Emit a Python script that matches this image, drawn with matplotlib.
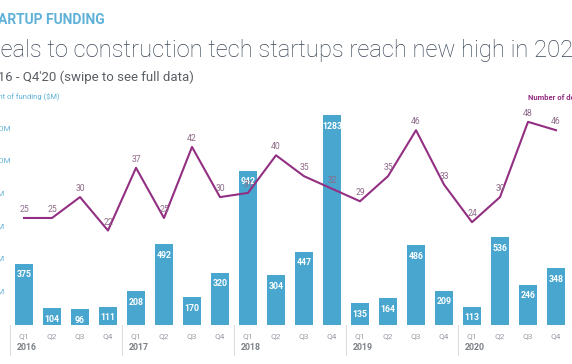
import matplotlib
matplotlib.use("Agg")
import matplotlib.pyplot as plt
import matplotlib.transforms as mtransforms
import numpy as np

# data
years = ["2016", "2017", "2018", "2019", "2020"]
quarters = ["Q1", "Q2", "Q3", "Q4"]
funding = [375, 104, 96, 111, 208, 492, 170, 320, 942, 304, 447, 1283,
           135, 164, 486, 209, 113, 536, 246, 348]
deals = [25, 25, 30, 22, 37, 25, 42, 30, 31, 40, 35, 32,
         29, 35, 46, 33, 24, 30, 48, 46]
left_ticks = [200, 400, 600, 800, 1000, 1200]
left_tick_labels = ["$200M", "$400M", "$600M", "$800M", "$1,000M", "$1,200M"]

bar_color = "#48a6cf"
line_color = "#932f82"
tick_color = "#9a9ea6"
plt.rcParams["font.family"] = ["Roboto", "DejaVu Sans"]

W, H = 572, 364
fig = plt.figure(figsize=(W / 100, H / 100), dpi=100)

def px(x, y):
    # pixel coords (from top-left) to figure fraction
    return x / W, 1 - y / H

# headings (cropped at the edges like the screenshot)
fig.text(*px(-19, 20), "STARTUP FUNDING", color="#5fb1d8", fontsize=10,
         fontweight="bold", va="center", ha="left")
fig.text(*px(-15, 51), "Deals to construction tech startups reach new high in 2020",
         color="#3a4656", fontsize=17.1, fontweight="light", va="center", ha="left")
fig.text(*px(-21, 77), "Q1'16 - Q4'20 (swipe to see full data)",
         color="#5a5f66", fontsize=9.5, va="center", ha="left")
fig.text(*px(-22, 97), "Amount of funding ($M)", color="#5fb1d8", fontsize=5.5,
         va="center", ha="left")
fig.text(*px(528, 97), "Number of deals", color=line_color, fontsize=5.5,
         fontweight="bold", va="center", ha="left")

# axes
x0, x1, ytop, ybase = 10, 570, 90, 325
ax = fig.add_axes([x0 / W, 1 - ybase / H, (x1 - x0) / W, (ybase - ytop) / H])
x = np.arange(len(funding))
ax.bar(x, funding, width=0.64, color=bar_color, zorder=2)
ax.set_xlim(-0.5, len(funding) - 0.5)
ax.set_ylim(0, (ybase - ytop) / 0.1637)
for s in ax.spines.values():
    s.set_visible(False)
ax.set_yticks([])
ax.set_xticks(x)
ax.set_xticklabels(quarters * len(years), color=tick_color, fontsize=6)
ax.tick_params(axis="x", length=0, pad=6)
ax.axhline(0, color="#e3e3e3", lw=0.8, zorder=1)

for xi, v in zip(x, funding):
    ax.annotate(str(v), (xi, v), xytext=(0, -8), textcoords="offset points",
                ha="center", va="center", color="white", fontsize=6.3,
                fontweight="bold", zorder=4)

# left tick labels, cropped at left edge
tr = mtransforms.blended_transform_factory(fig.transFigure, ax.transData)
for t, lab in zip(left_ticks, left_tick_labels):
    fig.text(-21 / W, t, lab, transform=tr, color="#6cb6d9", fontsize=6,
             va="center", ha="left")

# year labels and separators
trx = mtransforms.blended_transform_factory(ax.transData, ax.transAxes)
sep_bottom = -30 / (ybase - ytop)
for i, yr in enumerate(years):
    ax.text(i * 4 - 0.25, -23 / (ybase - ytop), yr, transform=trx,
            color="#7a7f86", fontsize=6.3, fontweight="bold", ha="left", va="center")
    xs = i * 4 - 0.5
    ax.plot([xs, xs], [0, sep_bottom], transform=trx, color="#dcdcdc",
            lw=0.8, clip_on=False)

# deals line
ax2 = ax.twinx()
ax2.plot(x, deals, color=line_color, lw=1.5, zorder=3)
ax2.set_ylim(-0.6, (ybase - ytop) / 4.18 - 0.6)
ax2.set_yticks([])
for s in ax2.spines.values():
    s.set_visible(False)
for xi, d in zip(x, deals):
    ax2.annotate(str(d), (xi, d), xytext=(0, 6), textcoords="offset points",
                 ha="center", va="center", color="#8f6a88", fontsize=6.2)

fig.savefig("out.png", dpi=100)
